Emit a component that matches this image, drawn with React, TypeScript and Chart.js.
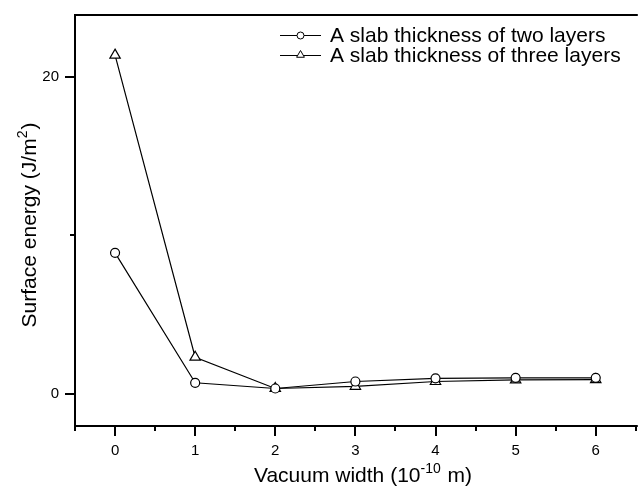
import React, { useEffect, useRef } from 'react';
import { Chart, registerables } from 'chart.js';

Chart.register(...registerables);

const vacuumWidths = [0, 1, 2, 3, 4, 5, 6];
const twoLayers = [8.9, 0.72, 0.36, 0.8, 1.0, 1.03, 1.03];
const threeLayers = [21.35, 2.33, 0.36, 0.5, 0.8, 0.9, 0.92];
const seriesLabels = ['A slab thickness of two layers', 'A slab thickness of three layers'];
const xMajorTicks = [0, 1, 2, 3, 4, 5, 6];
const xMinorTicks = [-0.5, 0.5, 1.5, 2.5, 3.5, 4.5, 5.5, 6.5];
const yMajorTicks = [0, 20];
const yMinorTicks = [10];
const xTitleMain = 'Vacuum width (10';
const xTitleSup = '-10';
const xTitleEnd = ' m)';
const yTitleMain = 'Surface energy (J/m';
const yTitleSup = '2';
const yTitleEnd = ')';

const FONT = '"Liberation Sans", Arial, Helvetica, sans-serif';

function drawSupText(ctx: CanvasRenderingContext2D, cx: number, cy: number, main: string, sup: string, end: string, size: number, supSize: number) {
  ctx.font = `${size}px ${FONT}`;
  const w1 = ctx.measureText(main).width;
  const w3 = ctx.measureText(end).width;
  ctx.font = `${supSize}px ${FONT}`;
  const w2 = ctx.measureText(sup).width;
  const total = w1 + w2 + w3 + 1;
  let x = cx - total / 2;
  ctx.textBaseline = 'alphabetic';
  ctx.textAlign = 'left';
  const baseY = cy + size * 0.36;
  ctx.font = `${size}px ${FONT}`;
  ctx.fillText(main, x, baseY);
  x += w1;
  ctx.font = `${supSize}px ${FONT}`;
  ctx.fillText(sup, x, baseY - size * 0.42);
  x += w2 + 1;
  ctx.font = `${size}px ${FONT}`;
  ctx.fillText(end, x, baseY);
}

const framePlugin = {
  id: 'framePlugin',
  afterDraw(chart: any) {
    const { ctx, chartArea } = chart;
    const { left, top, right, bottom } = chartArea;
    const xs = chart.scales.x;
    const ys = chart.scales.y;
    ctx.save();
    ctx.strokeStyle = '#000';
    ctx.lineWidth = 2;
    ctx.beginPath();
    ctx.moveTo(left, top);
    ctx.lineTo(right + 2, top);
    ctx.moveTo(left, top - 1);
    ctx.lineTo(left, bottom + 1);
    ctx.moveTo(left - 1, bottom);
    ctx.lineTo(right + 2, bottom);
    xMajorTicks.forEach((v) => {
      const px = Math.round(xs.getPixelForValue(v));
      ctx.moveTo(px, bottom);
      ctx.lineTo(px, bottom + 10);
    });
    xMinorTicks.forEach((v) => {
      const px = Math.round(xs.getPixelForValue(v));
      ctx.moveTo(px, bottom);
      ctx.lineTo(px, bottom + 5);
    });
    yMajorTicks.forEach((v) => {
      const py = Math.round(ys.getPixelForValue(v));
      ctx.moveTo(left, py);
      ctx.lineTo(left - 10, py);
    });
    yMinorTicks.forEach((v) => {
      const py = Math.round(ys.getPixelForValue(v));
      ctx.moveTo(left, py);
      ctx.lineTo(left - 5, py);
    });
    ctx.stroke();

    // legend
    const rows = [35, 55];
    chart.data.datasets.forEach((ds: any, i: number) => {
      const y = rows[i];
      ctx.lineWidth = 1;
      ctx.strokeStyle = '#000';
      ctx.beginPath();
      ctx.moveTo(280, y + 0.5);
      ctx.lineTo(321, y + 0.5);
      ctx.stroke();
      ctx.fillStyle = '#fff';
      ctx.beginPath();
      if (ds.pointStyle === 'triangle') {
        const r = 4.5;
        ctx.moveTo(300.5, y - r);
        ctx.lineTo(300.5 + r * 0.866, y + r * 0.5);
        ctx.lineTo(300.5 - r * 0.866, y + r * 0.5);
        ctx.closePath();
      } else {
        ctx.arc(300.5, y + 0.5, 3.5, 0, Math.PI * 2);
      }
      ctx.fill();
      ctx.stroke();
      ctx.fillStyle = '#000';
      ctx.font = `21px ${FONT}`;
      ctx.textAlign = 'left';
      ctx.textBaseline = 'middle';
      ctx.fillText(ds.label, 330, y + 1);
    });

    // axis titles
    ctx.fillStyle = '#000';
    drawSupText(ctx, 363, 474, xTitleMain, xTitleSup, xTitleEnd, 21, 14);
    ctx.save();
    ctx.translate(28, 225);
    ctx.rotate(-Math.PI / 2);
    drawSupText(ctx, 0, 0, yTitleMain, yTitleSup, yTitleEnd, 21, 14);
    ctx.restore();
    ctx.restore();
  },
};

export default function App() {
  const canvasRef = useRef<HTMLCanvasElement | null>(null);

  useEffect(() => {
    if (!canvasRef.current) return;
    const chart = new Chart(canvasRef.current, {
      type: 'line',
      data: {
        datasets: [
          {
            label: seriesLabels[0],
            data: vacuumWidths.map((x, i) => ({ x, y: twoLayers[i] })),
            borderColor: '#000',
            borderWidth: 1.2,
            pointStyle: 'circle',
            pointRadius: 4.5,
            pointBackgroundColor: '#fff',
            pointBorderColor: '#000',
            pointBorderWidth: 1.2,
            fill: false,
            tension: 0,
          },
          {
            label: seriesLabels[1],
            data: vacuumWidths.map((x, i) => ({ x, y: threeLayers[i] })),
            borderColor: '#000',
            borderWidth: 1.2,
            pointStyle: 'triangle',
            pointRadius: 6,
            pointBackgroundColor: '#fff',
            pointBorderColor: '#000',
            pointBorderWidth: 1.2,
            fill: false,
            tension: 0,
          },
        ],
      },
      options: {
        responsive: false,
        animation: false,
        devicePixelRatio: 1,
        layout: { padding: { top: 12, right: 1, left: 0, bottom: 0 } },
        plugins: { legend: { display: false }, tooltip: { enabled: false } },
        scales: {
          x: {
            type: 'linear',
            min: -0.5,
            max: 6.5,
            afterBuildTicks: (scale: any) => {
              scale.ticks = xMajorTicks.map((v) => ({ value: v }));
            },
            afterFit: (scale: any) => {
              scale.height = 67;
            },
            grid: { display: true, drawOnChartArea: false, drawTicks: true, tickLength: 10, color: 'rgba(0,0,0,0)', tickColor: 'rgba(0,0,0,0)' },
            border: { display: false },
            ticks: { color: '#000', font: { size: 15, family: FONT }, padding: 6, maxRotation: 0, autoSkip: false },
          },
          y: {
            type: 'linear',
            min: -2,
            max: 23.875,
            afterBuildTicks: (scale: any) => {
              scale.ticks = yMajorTicks.map((v) => ({ value: v }));
            },
            afterFit: (scale: any) => {
              scale.width = 75;
            },
            grid: { display: true, drawOnChartArea: false, drawTicks: true, tickLength: 10, color: 'rgba(0,0,0,0)', tickColor: 'rgba(0,0,0,0)' },
            border: { display: false },
            ticks: { color: '#000', font: { size: 15, family: FONT }, padding: 6 },
          },
        },
      },
      plugins: [framePlugin],
    });
    return () => chart.destroy();
  }, []);

  return (
    <div style={{ position: 'fixed', left: 0, top: 0, width: 639, height: 493, overflow: 'hidden', background: '#fff' }}>
      <canvas ref={canvasRef} width={643} height={493} style={{ display: 'block', width: 643, height: 493 }} />
    </div>
  );
}
